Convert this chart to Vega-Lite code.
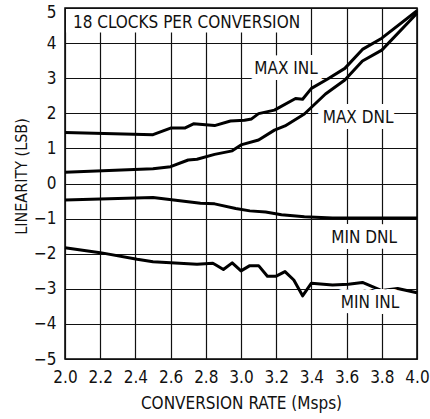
{
  "$schema": "https://vega.github.io/schema/vega-lite/v6.json",
  "autosize": "none",
  "width": 352,
  "height": 351,
  "padding": {"left": 65, "top": 8, "right": 13, "bottom": 60},
  "background": "white",
  "config": {
    "font": "DejaVu Sans Condensed",
    "view": {"stroke": "black", "strokeWidth": 1.5},
    "axis": {
      "grid": true, "gridColor": "#111", "gridWidth": 1.2, "gridOpacity": 1,
      "domain": false, "ticks": false,
      "labelFont": "DejaVu Sans Condensed", "labelFontSize": 17, "labelColor": "#111",
      "titleFont": "DejaVu Sans Condensed", "titleFontSize": 17, "titleFontWeight": "normal", "titleColor": "#111"
    }
  },
  "datasets": {
    "curves": [
      {"series": "MAX INL", "rate": 2.0, "lsb": 1.45},
      {"series": "MAX INL", "rate": 2.5, "lsb": 1.39},
      {"series": "MAX INL", "rate": 2.6, "lsb": 1.58},
      {"series": "MAX INL", "rate": 2.68, "lsb": 1.58},
      {"series": "MAX INL", "rate": 2.73, "lsb": 1.70},
      {"series": "MAX INL", "rate": 2.85, "lsb": 1.65},
      {"series": "MAX INL", "rate": 2.94, "lsb": 1.78},
      {"series": "MAX INL", "rate": 3.02, "lsb": 1.80},
      {"series": "MAX INL", "rate": 3.06, "lsb": 1.84},
      {"series": "MAX INL", "rate": 3.10, "lsb": 1.99},
      {"series": "MAX INL", "rate": 3.19, "lsb": 2.09},
      {"series": "MAX INL", "rate": 3.31, "lsb": 2.42},
      {"series": "MAX INL", "rate": 3.35, "lsb": 2.40},
      {"series": "MAX INL", "rate": 3.40, "lsb": 2.71},
      {"series": "MAX INL", "rate": 3.49, "lsb": 2.97},
      {"series": "MAX INL", "rate": 3.59, "lsb": 3.28},
      {"series": "MAX INL", "rate": 3.69, "lsb": 3.82},
      {"series": "MAX INL", "rate": 3.80, "lsb": 4.14},
      {"series": "MAX INL", "rate": 4.0, "lsb": 4.92},
      {"series": "MAX DNL", "rate": 2.0, "lsb": 0.32},
      {"series": "MAX DNL", "rate": 2.5, "lsb": 0.42},
      {"series": "MAX DNL", "rate": 2.6, "lsb": 0.48},
      {"series": "MAX DNL", "rate": 2.7, "lsb": 0.67},
      {"series": "MAX DNL", "rate": 2.75, "lsb": 0.69},
      {"series": "MAX DNL", "rate": 2.85, "lsb": 0.83},
      {"series": "MAX DNL", "rate": 2.95, "lsb": 0.93},
      {"series": "MAX DNL", "rate": 3.0, "lsb": 1.10},
      {"series": "MAX DNL", "rate": 3.1, "lsb": 1.24},
      {"series": "MAX DNL", "rate": 3.19, "lsb": 1.52},
      {"series": "MAX DNL", "rate": 3.25, "lsb": 1.64},
      {"series": "MAX DNL", "rate": 3.36, "lsb": 1.98},
      {"series": "MAX DNL", "rate": 3.48, "lsb": 2.55},
      {"series": "MAX DNL", "rate": 3.59, "lsb": 2.95},
      {"series": "MAX DNL", "rate": 3.69, "lsb": 3.49},
      {"series": "MAX DNL", "rate": 3.80, "lsb": 3.80},
      {"series": "MAX DNL", "rate": 4.0, "lsb": 4.85},
      {"series": "MIN DNL", "rate": 2.0, "lsb": -0.47},
      {"series": "MIN DNL", "rate": 2.5, "lsb": -0.40},
      {"series": "MIN DNL", "rate": 2.77, "lsb": -0.56},
      {"series": "MIN DNL", "rate": 2.85, "lsb": -0.58},
      {"series": "MIN DNL", "rate": 2.97, "lsb": -0.71},
      {"series": "MIN DNL", "rate": 3.05, "lsb": -0.78},
      {"series": "MIN DNL", "rate": 3.14, "lsb": -0.81},
      {"series": "MIN DNL", "rate": 3.23, "lsb": -0.89},
      {"series": "MIN DNL", "rate": 3.36, "lsb": -0.95},
      {"series": "MIN DNL", "rate": 3.52, "lsb": -0.98},
      {"series": "MIN DNL", "rate": 4.0, "lsb": -0.98},
      {"series": "MIN INL", "rate": 2.0, "lsb": -1.83},
      {"series": "MIN INL", "rate": 2.2, "lsb": -1.97},
      {"series": "MIN INL", "rate": 2.41, "lsb": -2.16},
      {"series": "MIN INL", "rate": 2.5, "lsb": -2.23},
      {"series": "MIN INL", "rate": 2.75, "lsb": -2.30},
      {"series": "MIN INL", "rate": 2.84, "lsb": -2.27},
      {"series": "MIN INL", "rate": 2.86, "lsb": -2.33},
      {"series": "MIN INL", "rate": 2.90, "lsb": -2.45},
      {"series": "MIN INL", "rate": 2.95, "lsb": -2.26},
      {"series": "MIN INL", "rate": 3.00, "lsb": -2.49},
      {"series": "MIN INL", "rate": 3.05, "lsb": -2.34},
      {"series": "MIN INL", "rate": 3.10, "lsb": -2.34},
      {"series": "MIN INL", "rate": 3.15, "lsb": -2.64},
      {"series": "MIN INL", "rate": 3.20, "lsb": -2.64},
      {"series": "MIN INL", "rate": 3.25, "lsb": -2.51},
      {"series": "MIN INL", "rate": 3.30, "lsb": -2.75},
      {"series": "MIN INL", "rate": 3.35, "lsb": -3.20},
      {"series": "MIN INL", "rate": 3.40, "lsb": -2.84},
      {"series": "MIN INL", "rate": 3.52, "lsb": -2.89},
      {"series": "MIN INL", "rate": 3.61, "lsb": -2.87},
      {"series": "MIN INL", "rate": 3.69, "lsb": -2.82},
      {"series": "MIN INL", "rate": 3.80, "lsb": -3.05},
      {"series": "MIN INL", "rate": 3.89, "lsb": -2.99},
      {"series": "MIN INL", "rate": 4.0, "lsb": -3.11}
    ],
    "labels": [
      {"label": "MAX INL", "rate": 3.256, "lsb": 3.25},
      {"label": "MAX DNL", "rate": 3.665, "lsb": 1.87},
      {"label": "MIN DNL", "rate": 3.70, "lsb": -1.54},
      {"label": "MIN INL", "rate": 3.733, "lsb": -3.40}
    ],
    "note": [
      {"label": "18 CLOCKS PER CONVERSION", "rate": 2.045, "lsb": 4.56}
    ]
  },
  "encoding": {
    "x": {
      "field": "rate", "type": "quantitative",
      "scale": {"domain": [2, 4], "nice": false, "zero": false},
      "axis": {"title": "CONVERSION RATE (Msps)", "values": [2.0, 2.2, 2.4, 2.6, 2.8, 3.0, 3.2, 3.4, 3.6, 3.8, 4.0], "format": ".1f", "labelPadding": 10, "titlePadding": 10, "labelFlush": false}
    },
    "y": {
      "field": "lsb", "type": "quantitative",
      "scale": {"domain": [-5, 5], "nice": false, "zero": false},
      "axis": {"title": "LINEARITY (LSB)", "titleFontSize": 16, "titleY": 168, "values": [-5, -4, -3, -2, -1, 0, 1, 2, 3, 4, 5], "labelPadding": 9, "titlePadding": 4, "labelFlush": false, "labelOffset": {"expr": "datum.value == 5 ? 4 : 0"}}
    }
  },
  "layer": [
    {
      "data": {"name": "curves"},
      "mark": {"type": "line", "strokeWidth": 3, "color": "black", "strokeJoin": "round"},
      "encoding": {"detail": {"field": "series"}}
    },
    {
      "data": {"name": "note"},
      "mark": {"type": "rect", "fill": "white", "stroke": null},
      "encoding": {
        "x": {"datum": 2.006},
        "x2": {"datum": 3.35},
        "y": {"datum": 4.3},
        "y2": {"datum": 4.975}
      }
    },
    {
      "data": {"name": "labels"},
      "mark": {"type": "text", "fontSize": 17, "align": "center", "baseline": "middle", "stroke": "white", "strokeWidth": 12, "strokeJoin": "round", "fill": "white"},
      "encoding": {"text": {"field": "label"}}
    },
    {
      "data": {"name": "labels"},
      "mark": {"type": "text", "fontSize": 17, "align": "center", "baseline": "middle", "fill": "#111"},
      "encoding": {"text": {"field": "label"}}
    },
    {
      "data": {"name": "note"},
      "mark": {"type": "text", "fontSize": 17, "align": "left", "baseline": "middle", "fill": "#111"},
      "encoding": {"text": {"field": "label"}}
    }
  ]
}
